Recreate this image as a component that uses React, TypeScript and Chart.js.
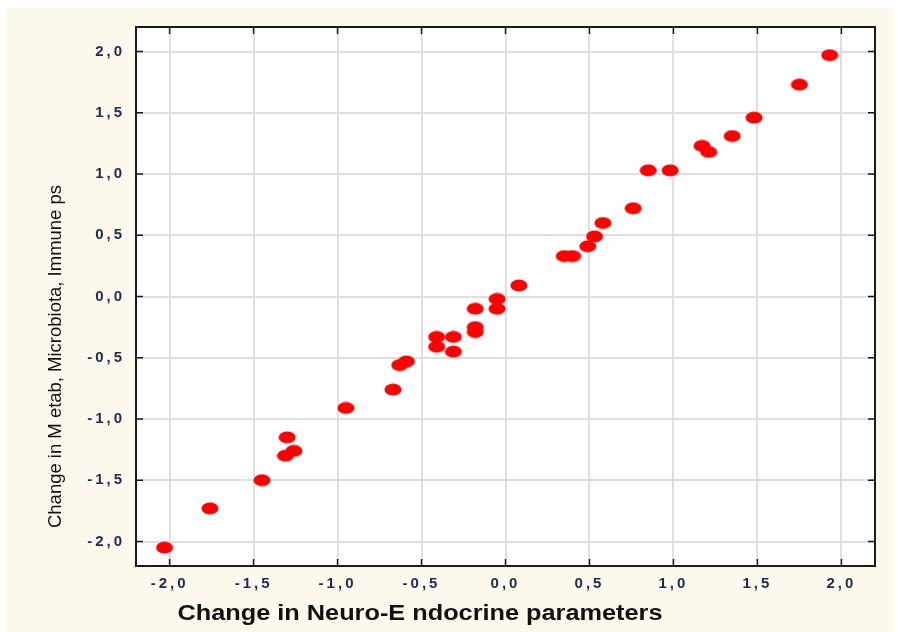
import React, { useEffect, useRef } from 'react';
import { Chart, registerables } from 'chart.js';

Chart.register(...registerables);

const xValues = [
  -2.03, -1.76, -1.45, -1.3, -1.31, -1.26, -0.95, -0.67, -0.63, -0.59,
  -0.41, -0.41, -0.31, -0.31, -0.18, -0.18, -0.18, -0.05, -0.05, 0.08,
  0.35, 0.4, 0.49, 0.53, 0.58, 0.76, 0.85, 0.98, 1.17, 1.21,
  1.35, 1.48, 1.75, 1.93,
];
const yValues = [
  -2.05, -1.73, -1.5, -1.15, -1.3, -1.26, -0.91, -0.76, -0.56, -0.53,
  -0.33, -0.41, -0.33, -0.45, -0.1, -0.25, -0.29, -0.02, -0.1, 0.09,
  0.33, 0.33, 0.41, 0.49, 0.6, 0.72, 1.03, 1.03, 1.23, 1.18,
  1.31, 1.46, 1.73, 1.97,
];
const tickValues = [-2, -1.5, -1, -0.5, 0, 0.5, 1, 1.5, 2];
const axisMin = -2.2;
const axisMax = 2.2;
const xTitle = 'Change in Neuro-E ndocrine parameters';
const yTitle = 'Change in M etab, Microbiota, Immune ps';

const CREAM = '#fdf8ec';
const LABEL = '#1d2b4e';
const FRAME = '#1a1a1a';

function fmt(v: number): string {
  const s = Math.abs(v).toFixed(1).replace('.', ',');
  return v < 0 ? '-' + s : s;
}

function makeMarker(): HTMLCanvasElement {
  const c = document.createElement('canvas');
  c.width = 18;
  c.height = 13;
  const g = c.getContext('2d')!;
  g.fillStyle = '#ff0000';
  g.beginPath();
  g.ellipse(9, 6.5, 8.5, 6, 0, 0, Math.PI * 2);
  g.fill();
  return c;
}

const framePlugin = {
  id: 'framePlugin',
  beforeDraw(chart: any) {
    const { ctx, chartArea: a, width, height } = chart;
    ctx.save();
    ctx.fillStyle = CREAM;
    ctx.fillRect(0, 0, width, height);
    ctx.fillStyle = '#ffffff';
    ctx.fillRect(a.left, a.top, a.right - a.left, a.bottom - a.top);
    ctx.restore();
    ctx.letterSpacing = '3px';
  },
  afterDraw(chart: any) {
    const { ctx, chartArea: a, scales } = chart;
    ctx.letterSpacing = '0px';
    ctx.save();
    ctx.strokeStyle = FRAME;
    ctx.lineWidth = 1.5;
    const len = 7;
    ctx.beginPath();
    for (const v of tickValues) {
      const px = scales.x.getPixelForValue(v);
      ctx.moveTo(px, a.top);
      ctx.lineTo(px, a.top + len);
      ctx.moveTo(px, a.bottom);
      ctx.lineTo(px, a.bottom - len);
      const py = scales.y.getPixelForValue(v);
      ctx.moveTo(a.left, py);
      ctx.lineTo(a.left + len, py);
      ctx.moveTo(a.right, py);
      ctx.lineTo(a.right - len, py);
    }
    ctx.stroke();
    ctx.lineWidth = 2;
    ctx.strokeRect(a.left, a.top, a.right - a.left, a.bottom - a.top);

    // x title
    ctx.fillStyle = '#111111';
    ctx.font = 'bold 22px "Liberation Sans", Arial, sans-serif';
    ctx.textBaseline = 'alphabetic';
    ctx.textAlign = 'center';
    let w = ctx.measureText(xTitle).width;
    ctx.save();
    ctx.translate(413, 612);
    ctx.scale(485 / w, 1);
    ctx.fillText(xTitle, 0, 0);
    ctx.restore();

    // y title
    ctx.font = '19px "Liberation Sans", Arial, sans-serif';
    w = ctx.measureText(yTitle).width;
    ctx.save();
    ctx.translate(54, 348.5);
    ctx.rotate(-Math.PI / 2);
    ctx.scale(343 / w, 1);
    ctx.fillText(yTitle, 0, 0);
    ctx.restore();
    ctx.restore();
  },
};

export default function App() {
  const ref = useRef<HTMLCanvasElement | null>(null);
  useEffect(() => {
    if (!ref.current) return;
    const marker = makeMarker();
    const points = xValues.map((x, i) => ({ x, y: yValues[i] }));
    const setTicks = (scale: any) => {
      scale.ticks = tickValues.map((v) => ({ value: v }));
    };
    const tickFont = { family: '"Liberation Sans", Arial, sans-serif', size: 15, weight: 'bold' as const };
    const chart = new Chart(ref.current, {
      type: 'scatter',
      data: {
        datasets: [
          {
            data: points,
            pointStyle: marker as any,
            backgroundColor: '#ff0000',
            borderColor: '#ff0000',
            pointRadius: 8,
          },
        ],
      },
      options: {
        animation: false,
        responsive: false,
        events: [],
        layout: { padding: { top: 19, right: 18, left: 0, bottom: 0 } },
        plugins: { legend: { display: false }, tooltip: { enabled: false } },
        scales: {
          x: {
            type: 'linear',
            min: axisMin,
            max: axisMax,
            afterBuildTicks: setTicks,
            afterFit: (s: any) => {
              s.height = 66;
              s.paddingLeft = 0;
              s.paddingRight = 0;
            },
            grid: { color: '#dedede', lineWidth: 2, drawTicks: false },
            border: { display: false },
            ticks: {
              padding: 9,
              color: LABEL,
              font: tickFont,
              maxRotation: 0,
              autoSkip: false,
              callback: (v: any) => fmt(Number(v)),
            },
          },
          y: {
            type: 'linear',
            min: axisMin,
            max: axisMax,
            afterBuildTicks: setTicks,
            afterFit: (s: any) => {
              s.width = 129;
              s.paddingTop = 0;
              s.paddingBottom = 0;
            },
            grid: { color: '#dedede', lineWidth: 2, drawTicks: false },
            border: { display: false },
            ticks: {
              padding: 11,
              color: LABEL,
              font: tickFont,
              autoSkip: false,
              callback: (v: any) => fmt(Number(v)),
            },
          },
        },
      },
      plugins: [framePlugin],
    });
    return () => chart.destroy();
  }, []);
  return (
    <div style={{ position: 'absolute', left: 7, top: 8, width: 886, height: 624 }}>
      <canvas ref={ref} width={886} height={624} style={{ display: 'block', width: 886, height: 624 }} />
    </div>
  );
}
